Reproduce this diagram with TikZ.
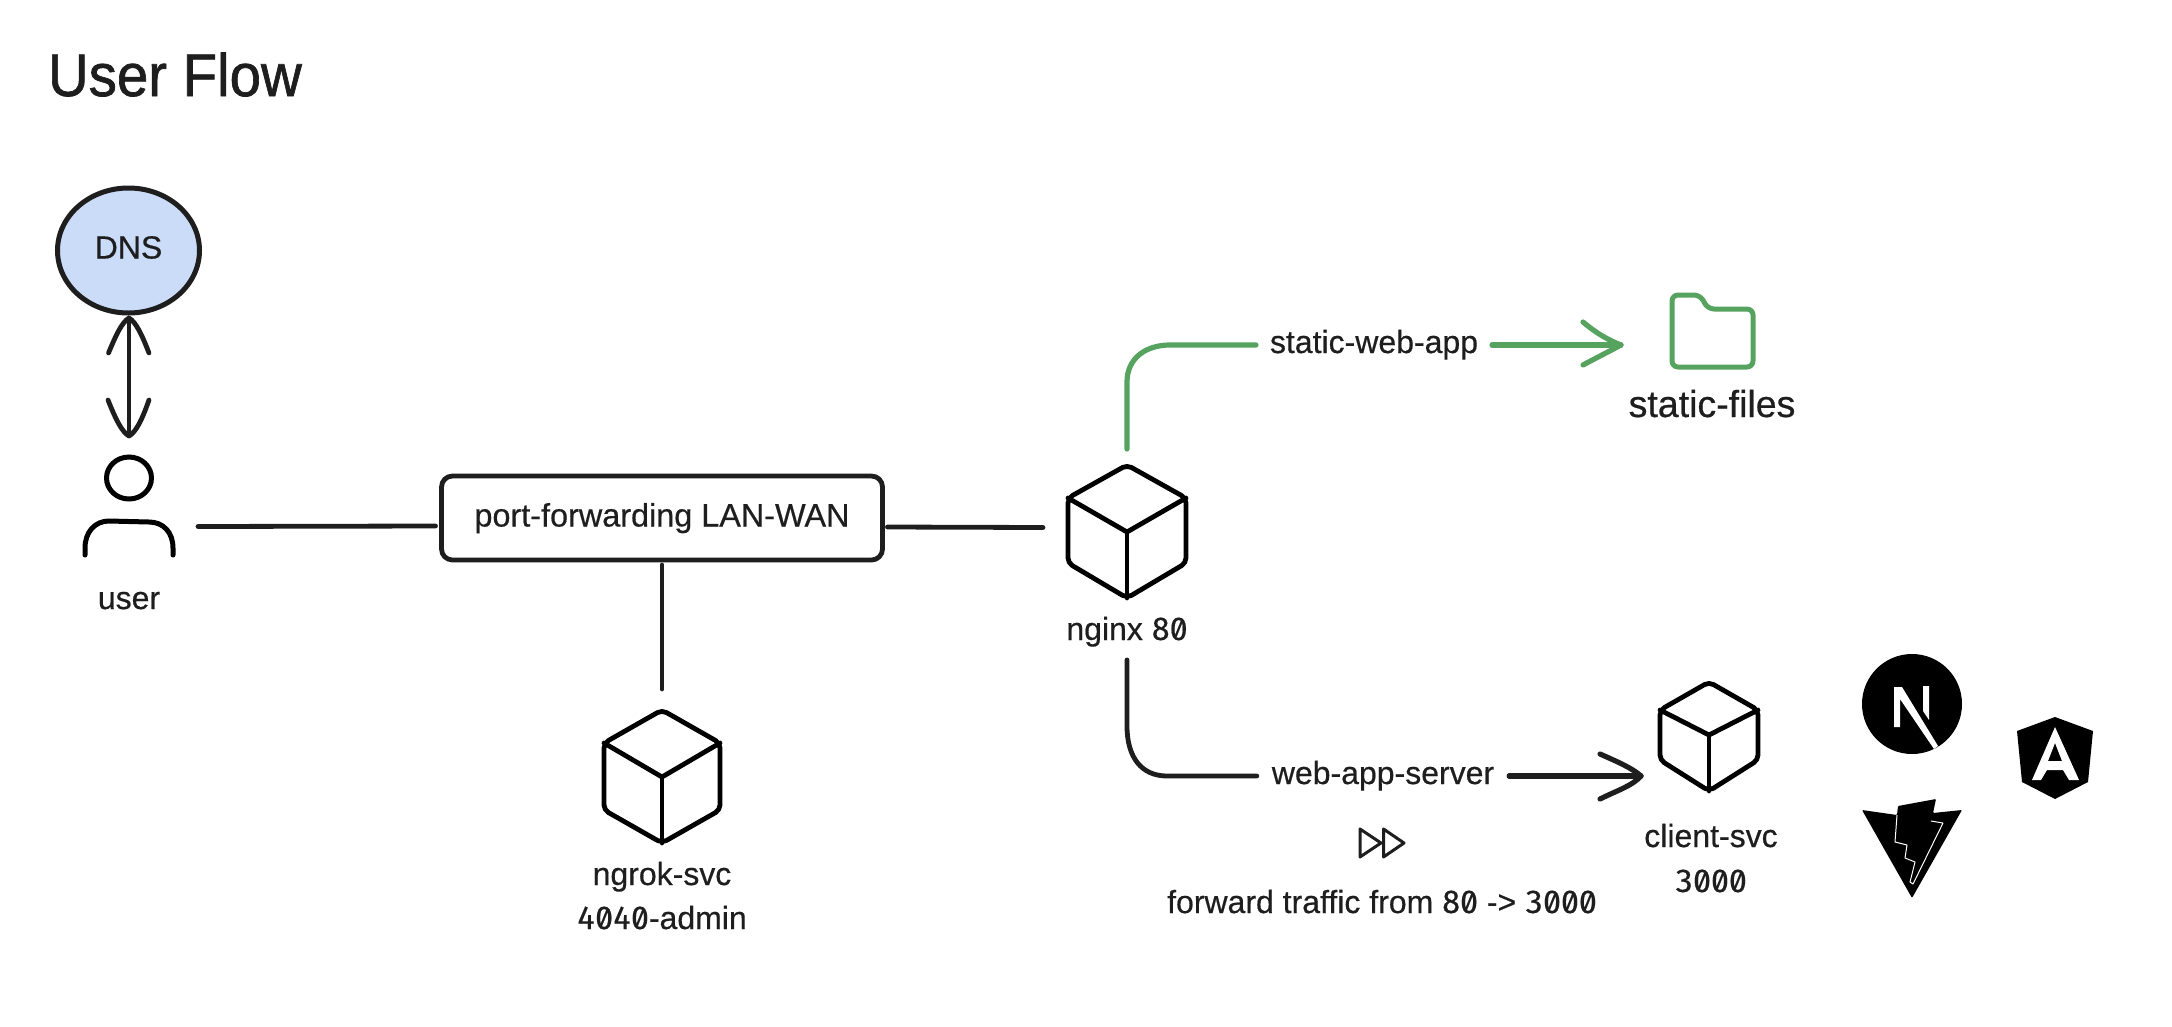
\documentclass[tikz,border=0pt]{standalone}
\usepackage{fontspec}
\usetikzlibrary{shapes.geometric}
\setmainfont[RawFeature={embolden=0.5}]{Liberation Sans}
\newfontfamily\titlef[RawFeature={embolden=1.2}]{Liberation Sans}
\newfontfamily\digf[RawFeature={+zero;+tnum;embolden=0.5}]{Fira Sans}
\newcommand{\dg}[1]{{\digf\fontsize{32}{38}\selectfont #1}}
\definecolor{ink}{HTML}{1E1E1E}
\definecolor{leaf}{HTML}{55A35F}
\definecolor{dnsfill}{HTML}{CADCF8}
\tikzset{
  lbl/.style={inner sep=0pt,outer sep=0pt,anchor=base,text=ink,font=\fontsize{32}{38}\selectfont},
  bigl/.style={lbl,font=\fontsize{37.5}{44}\selectfont},
  link/.style={draw=ink,line width=4.8pt,line cap=round,line join=round},
  glink/.style={draw=leaf,line width=5.2pt,line cap=round,line join=round},
  hbox/.style={draw=ink,line width=4.8pt,rounded corners=11pt,outer sep=0pt,inner sep=0pt,minimum width=441pt,minimum height=84pt,text depth=5pt,text height=22pt,text=ink,font=\fontsize{32.4}{38}\selectfont},
  dnsnode/.style={ellipse,draw=ink,fill=dnsfill,line width=5pt,outer sep=0pt,inner sep=0pt,minimum width=142pt,minimum height=125pt,text depth=7pt,text height=23pt,text=ink,font=\fontsize{32}{38}\selectfont},
  cubeline/.style={draw=black,line width=4.8pt,line join=round,line cap=round},
}
% name, cx, top, half width, upper, centre, lower, bottom (offsets from top)
\newcommand{\cubeicon}[8]{%
  \node[inner sep=0pt,outer sep=0pt,minimum width=#4pt*2,minimum height=#8pt] (#1) at (#2,#3+#8/2) {};
  \begin{scope}[shift={(#2,#3)}]
    \draw[cubeline,rounded corners=5pt] (0,0) -- (#4,#5) -- (#4,#7) -- (0,#8) -- (-#4,#7) -- (-#4,#5) -- cycle;
    \draw[cubeline] (-#4,#5) -- (0,#6) -- (#4,#5);
    \draw[cubeline] (0,#6) -- (0,#8);
  \end{scope}}
\begin{document}
\begin{tikzpicture}[x=1pt,y=-1pt]
\useasboundingbox (0,0) rectangle (2172,1026);
\fill[white] (0,0) rectangle (2172,1026);

% title
\node[lbl,anchor=base west,font=\titlef\fontsize{60}{70}\selectfont] (title) at (48,96) {\scalebox{.94}[1]{User Flow}};

% DNS
\node[dnsnode] (dns) at (128.5,250.5) {DNS};

% user icon
\node[inner sep=0pt,outer sep=0pt,minimum width=88pt,minimum height=101pt] (user) at (129,504.5) {};
\draw[draw=black,line width=5pt] (129,478) ellipse [x radius=22.5,y radius=21];
\draw[draw=black,line width=5pt,line cap=round] (85,555) -- (85,548) .. controls (85,532) and (95,521) .. (109,521) -- (149,522) .. controls (163,522) and (173,532) .. (173,548) -- (173,555);
\node[lbl] (userl) at (129,609) {user};

% DNS <-> user
\coordinate (dnstip) at (129,318);
\coordinate (usertip) at (129,436);
\draw[link] (dnstip) -- (usertip);
\draw[link] (108.5,353) .. controls (116,335) and (122,322) .. (dnstip) .. controls (136,322) and (142,335) .. (149,353);
\draw[link] (108,400) .. controls (116,420) and (122,432) .. (usertip) .. controls (136,432) and (142,420) .. (149,400);

% port forwarding
\node[hbox] (pf) at (662,518) {port-forwarding LAN-WAN};
\draw[link] ([xshift=25pt,yshift=-22pt]user.east) -- ([xshift=-6pt,yshift=-8pt]pf.west);

% ngrok
\cubeicon{ngrok}{662}{710}{58}{33}{67}{100}{133}
\node[lbl] (ngrokl) at (662,885) {ngrok-svc};
\node[lbl] (ngrokp) at (662,929) {\dg{4040}-admin};
\draw[link] ([yshift=-5pt]pf.south) -- ([yshift=21pt]ngrok.north);

% nginx
\cubeicon{nginx}{1127}{465}{59}{33}{67}{98}{133}
\node[lbl] (nginxl) at (1127,640) {nginx \dg{80}};
\draw[link] ([xshift=5pt,yshift=-9pt]pf.east) -- ([xshift=-25pt,yshift=4pt]nginx.west);

% green route
\node[lbl] (swa) at (1374,353) {static-web-app};
\draw[glink] ([yshift=16pt]nginx.north) -- (1127,382) .. controls (1127,358) and (1146,345) .. (1170,345) -- ([xshift=-14pt,yshift=8pt]swa.base west);
\coordinate (gtip) at (1621,345);
\draw[glink] ([xshift=14pt,yshift=8pt]swa.base east) -- (gtip);
\draw[glink] (1583,322) .. controls (1596,333) and (1608,340) .. (gtip) .. controls (1608,352) and (1596,358) .. (1583,365);

% folder
\node[inner sep=0pt,outer sep=0pt,minimum width=81pt,minimum height=72pt] (folder) at (1712.5,331) {};
\draw[glink,line width=5pt,rounded corners=6pt] (1672,295) -- (1700,295) -- (1708,309) -- (1753,309) -- (1753,367) -- (1672,367) -- cycle;
\node[bigl] (files) at (1712,417) {static-files};

% client
\cubeicon{client}{1709}{682}{49}{28}{53}{78}{109}
\node[lbl] (clientl) at (1711,847) {client-svc};
\node[lbl] (clientp) at (1711,892) {\dg{3000}};

% black route
\node[lbl] (was) at (1383,784) {web-app-server};
\coordinate (startb) at (1127,660);
\draw[link] (startb) -- (1127,726) .. controls (1127,758) and (1142,776) .. (1167,776) -- ([xshift=-15pt,yshift=8pt]was.base west);
\coordinate (btip) at (1641,776);
\draw[link,line width=5.2pt] ([xshift=15pt,yshift=8pt]was.base east) -- (btip);
\draw[link,line width=5.2pt] (1600,754) .. controls (1618,762) and (1632,768) .. (btip) .. controls (1632,786) and (1618,790) .. (1600,799);

% forward
\draw[draw=ink,line width=3pt,line join=round] (1360,829) -- (1381,843) -- (1360,857) -- cycle;
\draw[draw=ink,line width=3pt,line join=round] (1383.5,829) -- (1404,843) -- (1383.5,857) -- cycle;
\node[lbl] (fwd) at (1382,913) {forward traffic from \dg{80} -> \dg{3000}};

% Next logo
\fill[black] (1912,704) circle [radius=50];
\fill[white] (1894,687) -- (1902,687) -- (1938,746) -- (1934,749) -- (1900,699) -- (1900,727) -- (1894,727) -- cycle;
\fill[white] (1923,686) -- (1929,686) -- (1929,720) -- (1923,711) -- cycle;

% Angular logo
\fill[black] (2055,717) -- (2093,731) -- (2088,782) -- (2055,799) -- (2022,782) -- (2017,731) -- cycle;
\fill[white,even odd rule] (2055,727) -- (2079,780) -- (2069,780) -- (2063,770) -- (2047,770) -- (2041,780) -- (2032,780) -- cycle
   (2055,743) -- (2062,761) -- (2048,761) -- cycle;

% Vite logo
\fill[black,rounded corners=1pt] (1862,810) -- (1897,815) -- (1898,806) -- (1936,799) -- (1933,813) -- (1962,810) -- (1912,898) -- cycle;
\draw[white,line width=1pt,line join=round] (1897,815) -- (1895,842) -- (1907,845) -- (1905,858) -- (1915,862) -- (1910,882) -- (1913,884) -- (1943,823) -- (1931,821);
\end{tikzpicture}
\end{document}
